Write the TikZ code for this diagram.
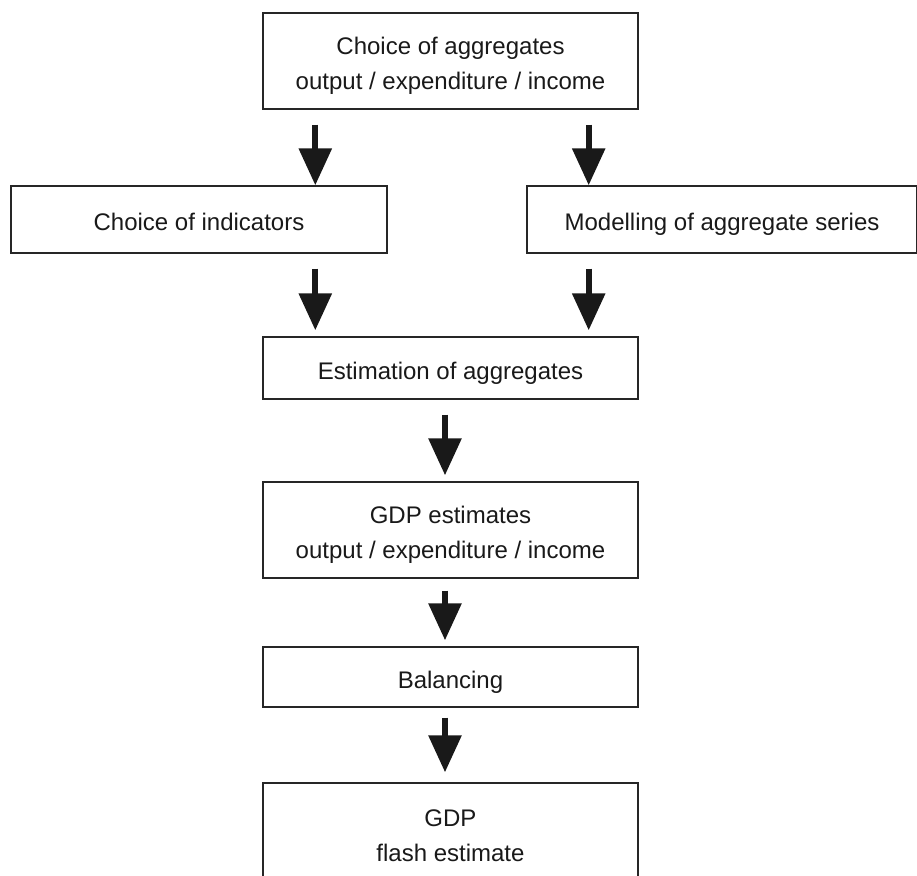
\documentclass[tikz,border=0pt]{standalone}
\usepackage{fontspec}
\setmainfont{Liberation Sans}
\usepackage{tikz}
\usetikzlibrary{arrows.meta}

\begin{document}
\begin{tikzpicture}[x=0.5pt, y=-0.5pt]
          \tikzstyle{box}=[draw=black!85,line width=0.7pt,align=center,inner sep=0pt,
            font=\fontsize{12}{17.5}\selectfont,text=black!90,minimum width=187.5pt,
            text height=12.5pt,text depth=1.5pt]
          \tikzstyle{twoline}=[text height=28.5pt,text depth=0.5pt]
          \tikzstyle{flow}=[line width=3pt,black!90,-{Triangle[length=18.5pt,width=16pt]},
            shorten <=7.5pt,shorten >=3pt]
          \useasboundingbox (0,0) rectangle (917,875);
          \node[box,twoline,minimum height=48pt] (T) at (450.5,61) {Choice of aggregates\\output / expenditure / income};
          \node[box,minimum width=188pt,minimum height=33.5pt] (L) at (199,219.5) {Choice of indicators};
          \node[box,minimum width=195pt,minimum height=33.5pt] (M) at (722,219.5) {Modelling of aggregate series};
          \node[box,minimum height=31pt] (E) at (450.5,368) {Estimation of aggregates};
          \node[box,twoline,minimum height=48pt] (G) at (450.5,530) {GDP estimates\\output / expenditure / income};
          \node[box,minimum height=30pt] (B) at (450.5,677) {Balancing};
          \node[box,twoline,minimum height=50pt] (F) at (450.5,833) {GDP\\flash estimate};
          \coordinate (a1) at ([xshift=26.5pt]T.south west);
          \coordinate (a2) at ([xshift=-25pt]T.south east);
          \coordinate (a3) at ([xshift=-2.75pt]E.south);
          \draw[flow,shorten >=0pt] (a1) -- (a1 |- L.north);
          \draw[flow,shorten >=0pt] (a2) -- (a2 |- M.north);
          \draw[flow] (a1 |- L.south) -- (a1 |- E.north);
          \draw[flow] (a2 |- M.south) -- (a2 |- E.north);
          \draw[flow] (a3) -- (a3 |- G.north);
          \draw[flow,shorten <=6pt] (a3 |- G.south) -- (a3 |- B.north);
          % \draw[flow] (B) -- (F);
          \draw[flow,shorten <=5pt,shorten >=5pt] (a3 |- B.south) -- (a3 |- F.north);
        \end{tikzpicture}
\end{document}
